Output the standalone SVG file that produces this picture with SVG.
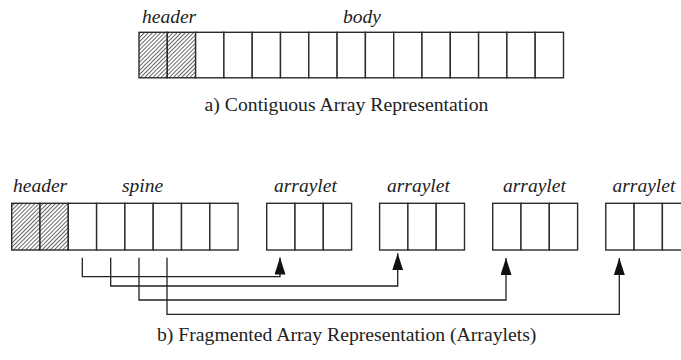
<svg xmlns="http://www.w3.org/2000/svg" width="681" height="360" viewBox="0 0 681 360">
<defs>
<pattern id="hatch" patternUnits="userSpaceOnUse" width="2.9" height="2.9" patternTransform="rotate(45)">
<rect width="2.9" height="2.9" fill="#fff"/>
<line x1="0.5" y1="0" x2="0.5" y2="2.9" stroke="#333" stroke-width="0.75"/>
</pattern>
<marker id="arrow" viewBox="0 0 17 11" refX="17" refY="5.5" markerWidth="17" markerHeight="11" markerUnits="userSpaceOnUse" orient="auto">
<path d="M0,0 L17,5.5 L0,11 z" fill="#111"/>
</marker>
</defs>
<style>
.cell{fill:#fff;stroke:#2b2b2b;stroke-width:1.4}
.hat{fill:url(#hatch);stroke:#2b2b2b;stroke-width:1.4}
text{font-family:'Liberation Serif','Times New Roman','DejaVu Serif',serif;fill:#222}
.lbl{font-style:italic;font-size:19.5px}
.cap{font-size:19.7px;text-anchor:middle}
.con{fill:none;stroke:#222;stroke-width:1.3;marker-end:url(#arrow)}
</style>
<rect width="681" height="360" fill="#fff"/>

<g id="contiguous-array">
<text class="lbl" x="142" y="23">header</text>
<text class="lbl" x="343" y="23">body</text>
<rect class="hat" x="139" y="32.3" width="28.3" height="45.5"/>
<rect class="hat" x="167.3" y="32.3" width="28.3" height="45.5"/>
<rect class="cell" x="195.6" y="32.3" width="28.3" height="45.5"/>
<rect class="cell" x="223.9" y="32.3" width="28.3" height="45.5"/>
<rect class="cell" x="252.2" y="32.3" width="28.3" height="45.5"/>
<rect class="cell" x="280.5" y="32.3" width="28.3" height="45.5"/>
<rect class="cell" x="308.8" y="32.3" width="28.3" height="45.5"/>
<rect class="cell" x="337.1" y="32.3" width="28.3" height="45.5"/>
<rect class="cell" x="365.4" y="32.3" width="28.3" height="45.5"/>
<rect class="cell" x="393.7" y="32.3" width="28.3" height="45.5"/>
<rect class="cell" x="422" y="32.3" width="28.3" height="45.5"/>
<rect class="cell" x="450.3" y="32.3" width="28.3" height="45.5"/>
<rect class="cell" x="478.6" y="32.3" width="28.3" height="45.5"/>
<rect class="cell" x="506.9" y="32.3" width="28.3" height="45.5"/>
<rect class="cell" x="535.2" y="32.3" width="28.3" height="45.5"/>
</g>
<g id="caption-a"><text class="cap" x="346.5" y="111">a) Contiguous Array Representation</text></g>

<g id="spine-array">
<text class="lbl" x="13" y="192">header</text>
<text class="lbl" x="122" y="192">spine</text>
<rect class="hat" x="11.7" y="203.3" width="28.3" height="46.7"/>
<rect class="hat" x="40" y="203.3" width="28.3" height="46.7"/>
<rect class="cell" x="68.3" y="203.3" width="28.3" height="46.7"/>
<rect class="cell" x="96.6" y="203.3" width="28.3" height="46.7"/>
<rect class="cell" x="124.9" y="203.3" width="28.3" height="46.7"/>
<rect class="cell" x="153.2" y="203.3" width="28.3" height="46.7"/>
<rect class="cell" x="181.5" y="203.3" width="28.3" height="46.7"/>
<rect class="cell" x="209.8" y="203.3" width="28.3" height="46.7"/>
</g>

<g id="arraylet-1">
<text class="lbl" x="274" y="192">arraylet</text>
<rect class="cell" x="266.7" y="203.3" width="28.3" height="46.7"/>
<rect class="cell" x="295" y="203.3" width="28.3" height="46.7"/>
<rect class="cell" x="323.3" y="203.3" width="28.3" height="46.7"/>
</g>
<g id="arraylet-2">
<text class="lbl" x="387" y="192">arraylet</text>
<rect class="cell" x="379.6" y="203.3" width="28.3" height="46.7"/>
<rect class="cell" x="407.9" y="203.3" width="28.3" height="46.7"/>
<rect class="cell" x="436.2" y="203.3" width="28.3" height="46.7"/>
</g>
<g id="arraylet-3">
<text class="lbl" x="503" y="192">arraylet</text>
<rect class="cell" x="492.7" y="203.3" width="28.3" height="46.7"/>
<rect class="cell" x="521" y="203.3" width="28.3" height="46.7"/>
<rect class="cell" x="549.3" y="203.3" width="28.3" height="46.7"/>
</g>
<g id="arraylet-4">
<text class="lbl" x="612.5" y="192">arraylet</text>
<rect class="cell" x="605.8" y="203.3" width="28.3" height="46.7"/>
<rect class="cell" x="634.1" y="203.3" width="28.3" height="46.7"/>
<rect class="cell" x="662.4" y="203.3" width="28.3" height="46.7"/>
</g>

<g id="connectors">
<path class="con" d="M82.3,257.7 V276.7 H280 V257.5"/>
<path class="con" d="M110.7,257.7 V286 H397.7 V253.3"/>
<path class="con" d="M139,257.7 V300 H506 V258"/>
<path class="con" d="M167,257.7 V314.3 H619.3 V258"/>
</g>

<g id="caption-b"><text class="cap" x="346.7" y="341">b) Fragmented Array Representation (Arraylets)</text></g>
</svg>
